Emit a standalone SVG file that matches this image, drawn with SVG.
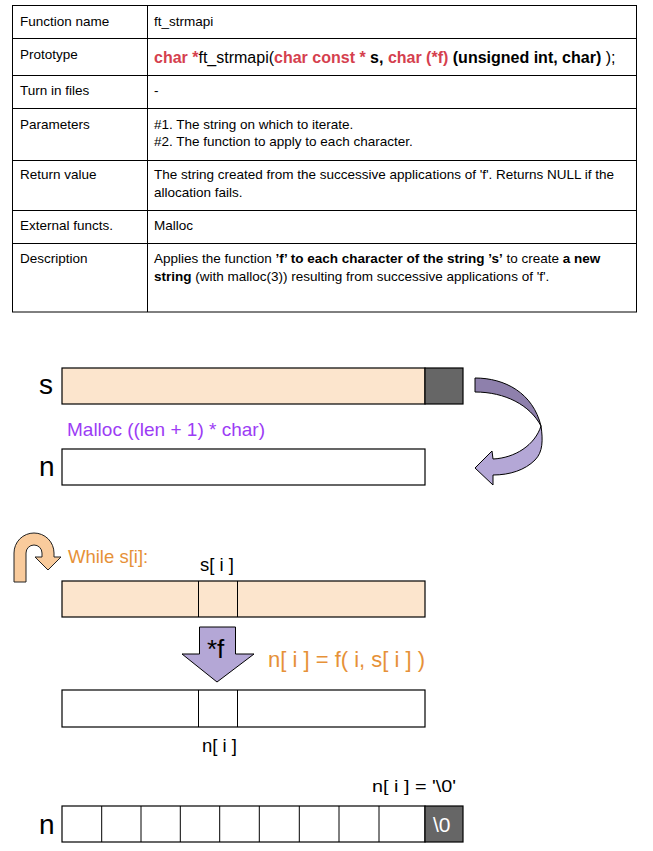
<svg xmlns="http://www.w3.org/2000/svg" width="653" height="851" viewBox="0 0 653 851">
<style>
text{font-family:"Liberation Sans",Arial,sans-serif;fill:#000}
.t{font-size:13.5px}
.b{font-weight:bold}
.red{fill:#d5404e}
.line{stroke:#000;stroke-width:1;fill:none}
.box{stroke:#000;stroke-width:1.2}
.peach{fill:#fce5cd}
.white{fill:#fff}
.gray{fill:#666}
.big{font-size:28px}
</style>
<rect width="653" height="851" fill="#fff"/>
<g id="table">
<rect x="12.5" y="5.5" width="624" height="306.5" class="line"/>
<path class="line" d="M147.5,5.5V312M12.5,38.5H636.5M12.5,75.5H636.5M12.5,108.5H636.5M12.5,160.5H636.5M12.5,210.5H636.5M12.5,243.5H636.5"/>
<text class="t" x="20" y="26">Function name</text>
<text class="t" x="154" y="26">ft_strmapi</text>
<text class="t" x="20" y="59">Prototype</text>
<text x="154" y="63" style="font-size:16px"><tspan class="b red">char *</tspan><tspan>ft_strmapi(</tspan><tspan class="b red">char const * </tspan><tspan class="b">s, </tspan><tspan class="b red">char (*f) </tspan><tspan class="b">(unsigned int, char)</tspan><tspan> );</tspan></text>
<text class="t" x="20" y="95">Turn in files</text>
<text class="t" x="154" y="95">-</text>
<text class="t" x="20" y="129">Parameters</text>
<text class="t" x="154" y="129">#1. The string on which to iterate.</text>
<text class="t" x="154" y="146">#2. The function to apply to each character.</text>
<text class="t" x="20" y="179">Return value</text>
<text class="t" x="154" y="179">The string created from the successive applications of 'f'. Returns NULL if the</text>
<text class="t" x="154" y="197">allocation fails.</text>
<text class="t" x="20" y="230">External functs.</text>
<text class="t" x="154" y="230">Malloc</text>
<text class="t" x="20" y="263">Description</text>
<text class="t" x="154" y="263">Applies the function <tspan class="b">’f’ to each character of the string ’s’</tspan> to create <tspan class="b">a new</tspan></text>
<text class="t" x="154" y="281"><tspan class="b">string</tspan> (with malloc(3)) resulting from successive applications of 'f'.</text>
</g>
<g id="s-array">
<text class="big" x="39" y="394">s</text>
<rect class="box peach" x="62" y="368" width="363" height="36"/>
<rect class="box gray" x="425" y="368" width="38" height="36"/>
</g>
<g id="malloc-label">
<text x="67" y="436" style="font-size:19px;fill:#9c3cf5">Malloc ((len + 1) * char)</text>
</g>
<g id="n-array">
<text class="big" x="39" y="476">n</text>
<rect class="box white" x="62" y="449" width="363" height="36"/>
</g>
<g id="loop-label">
<text x="68" y="563" style="font-size:18.5px;fill:#e69138">While s[i]:</text>
<text x="200" y="571" style="font-size:18.5px">s[ i ]</text>
</g>
<g id="s-iter">
<rect class="box peach" x="62" y="581" width="363" height="36"/>
<path class="line" d="M198.5,581V617M237.5,581V617"/>
</g>
<g id="f-label">
<text x="268" y="667" style="font-size:22px;fill:#e69138">n[ i ] = f( i, s[ i ] )</text>
</g>
<g id="n-iter">
<rect class="box white" x="62" y="690" width="363" height="37"/>
<path class="line" d="M198.5,690V727M237.5,690V727"/>
<text x="202" y="752" style="font-size:18.5px">n[ i ]</text>
</g>
<g id="n-final">
<text x="372" y="792" style="font-size:17px" textLength="84" lengthAdjust="spacingAndGlyphs">n[ i ] = '\0'</text>
<text class="big" x="39" y="834">n</text>
<rect class="box white" x="62" y="806" width="363" height="36"/>
<path class="line" d="M101.7,806V842M141,806V842M180.3,806V842M219.7,806V842M259.3,806V842M299.3,806V842M339,806V842M379,806V842"/>
<rect class="box gray" x="425" y="806" width="38" height="36"/>
<text x="433" y="832" style="font-size:21px;fill:#fff">\0</text>
</g>
<g id="connectors">
<path d="M475,378 C505,378 533,393 541,426 C530,405 505,392 475,392 Z" fill="#8e80ac" stroke="#000" stroke-width="1"/>
<path d="M541,426 C543,440 543,452 535,460 C525,470 510,475 493,475 L493,485 L475,468 L492,451 L493,459 C515,458 535,445 541,426 Z" fill="#b4a7d6" stroke="#000" stroke-width="1"/>
<path d="M14,582 L14,553 A20,20 0 0 1 54,553 L54,557 L61,557 L48,570 L35,557 L42,557 L42,553 A8,8 0 0 0 26,553 L26,582 Z" fill="#f9cb9c" stroke="#222" stroke-width="1"/>
<path d="M199.5,627 L235.5,627 L235.5,654 L254,654 L217,682 L182,654 L199.5,654 Z" fill="#b4a7d6" stroke="#000" stroke-width="1"/>
<text x="207" y="658" style="font-size:26px">*f</text>
</g>
</svg>
